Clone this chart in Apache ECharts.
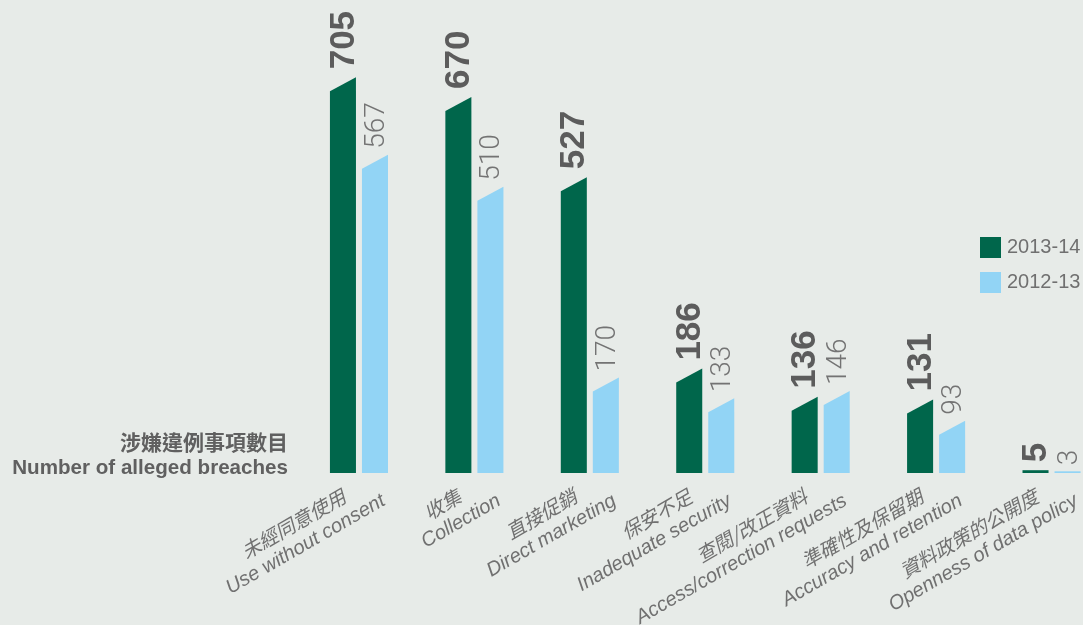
<!DOCTYPE html>
<html>
<head>
<meta charset="utf-8">
<script src="https://cdn.jsdelivr.net/npm/echarts@6/dist/echarts.min.js"></script>
<style>
html,body{margin:0;padding:0;background:#e7ebe8;}
#chart{width:1083px;height:625px;}
</style>
</head>
<body>
<div id="chart"></div>
<script>
const categoriesZh = ['未經同意使用','收集','直接促銷','保安不足','查閱/改正資料','準確性及保留期','資料政策的公開度'];
const categoriesEn = ['Use without consent','Collection','Direct marketing','Inadequate security','Access/correction requests','Accuracy and retention','Openness of data policy'];
const seriesNames = ['2013-14','2012-13'];
const values2013 = [705, 670, 527, 186, 136, 131, 5];
const values2012 = [567, 510, 170, 133, 146, 93, 3];
const titleZh = '涉嫌違例事項數目';
const titleEn = 'Number of alleged breaches';

const DARK = '#00664b';
const LIGHT = '#92d4f5';
const EN_FONT = "'Liberation Sans', Arial, Helvetica, sans-serif";
const LIGHT_FONT = "Roboto, 'Liberation Sans', Arial, sans-serif";
const ZH_FONT = "'Noto Sans CJK TC', 'Noto Sans CJK SC', sans-serif";

function makeRender(side, labelStyle) {
  return function (params, api) {
    const cat = api.value(0);
    const val = api.value(1);
    const top = api.coord([cat, val]);
    const base = api.coord([cat, 0]);
    const band = api.size([1, 0])[0];
    const w = band * 0.2255;
    const g = band * 0.026;
    const x0 = side < 0 ? top[0] - g - w : top[0] + g;
    const x1 = x0 + w;
    const h = base[1] - top[1];
    const slant = h > 20 ? 14 : 0;
    return {
      type: 'group',
      children: [
        {
          type: 'polygon',
          shape: { points: [[x0, base[1]], [x0, top[1] + slant], [x1, top[1]], [x1, base[1]]] },
          style: api.style()
        },
        {
          type: 'text',
          x: (x0 + x1) / 2 + labelStyle.dx,
          y: top[1] - labelStyle.gap,
          rotation: Math.PI / 2,
          style: {
            text: String(val),
            fill: labelStyle.color,
            fontSize: labelStyle.fontSize,
            fontWeight: labelStyle.fontWeight,
            fontFamily: labelStyle.fontFamily,
            align: 'left',
            verticalAlign: 'middle'
          }
        }
      ]
    };
  };
}

const chart = echarts.init(document.getElementById('chart'), null, { renderer: 'canvas' });

const option = {
  backgroundColor: '#e7ebe8',
  animation: false,
  grid: [
    { left: 301.25, width: 808, top: 24, height: 449, outerBoundsMode: 'none', containLabel: false },
    { left: 320, width: 808, top: 24, height: 449, outerBoundsMode: 'none', containLabel: false }
  ],
  xAxis: [
    {
      type: 'category', gridIndex: 0, data: categoriesEn,
      axisLine: { show: false }, axisTick: { show: false }, axisLabel: { show: false }
    },
    {
      type: 'category', gridIndex: 1, data: categoriesEn,
      axisLine: { show: false }, axisTick: { show: false },
      axisLabel: {
        interval: 0,
        rotate: 30,
        margin: 16,
        hideOverlap: false,
        color: '#707070',
        formatter: function (v, i) {
          return '{zh|' + categoriesZh[i] + '}\n{en|' + categoriesEn[i] + '}';
        },
        rich: {
          zh: { fontSize: 19.5, fontFamily: ZH_FONT, fontStyle: 'italic', color: '#707070', align: 'right', padding: [0, 32, 0, 0], lineHeight: 24 },
          en: { fontSize: 20, fontFamily: EN_FONT, fontStyle: 'italic', color: '#707070', align: 'right', lineHeight: 24 }
        }
      }
    }
  ],
  yAxis: [
    { type: 'value', gridIndex: 0, min: 0, max: 800, show: false },
    { type: 'value', gridIndex: 1, min: 0, max: 800, show: false }
  ],
  legend: {
    orient: 'vertical',
    left: 980,
    top: 237,
    padding: 0,
    itemWidth: 21,
    itemHeight: 21,
    itemGap: 14,
    icon: 'rect',
    data: seriesNames,
    textStyle: { fontSize: 20, color: '#707070', fontFamily: EN_FONT, padding: [0, 0, 0, 1] }
  },
  graphic: [
    {
      type: 'text',
      x: 288,
      y: 429,
      style: {
        text: '{zh|' + titleZh + '}\n{en|' + titleEn + '}',
        align: 'right',
        verticalAlign: 'top',
        rich: {
          zh: { fontSize: 21, fontFamily: ZH_FONT, fontWeight: 'bold', fill: '#606060', align: 'right', lineHeight: 26 },
          en: { fontSize: 20.6, fontFamily: EN_FONT, fontWeight: 'bold', fill: '#606060', align: 'right', lineHeight: 26 }
        }
      }
    }
  ],
  series: [
    {
      name: seriesNames[0],
      type: 'custom',
      xAxisIndex: 0, yAxisIndex: 0,
      itemStyle: { color: DARK },
      encode: { x: 0, y: 1 },
      data: values2013.map((v, i) => [i, v]),
      renderItem: makeRender(-1, { color: '#5c5c5c', fontSize: 35, fontWeight: 'bold', fontFamily: EN_FONT, dx: 1, gap: 8 })
    },
    {
      name: seriesNames[1],
      type: 'custom',
      xAxisIndex: 0, yAxisIndex: 0,
      itemStyle: { color: LIGHT },
      encode: { x: 0, y: 1 },
      data: values2012.map((v, i) => [i, v]),
      renderItem: makeRender(1, { color: '#737373', fontSize: 28, fontWeight: 300, fontFamily: LIGHT_FONT, dx: 2, gap: 6 })
    }
  ]
};

chart.setOption(option);
</script>
</body>
</html>
